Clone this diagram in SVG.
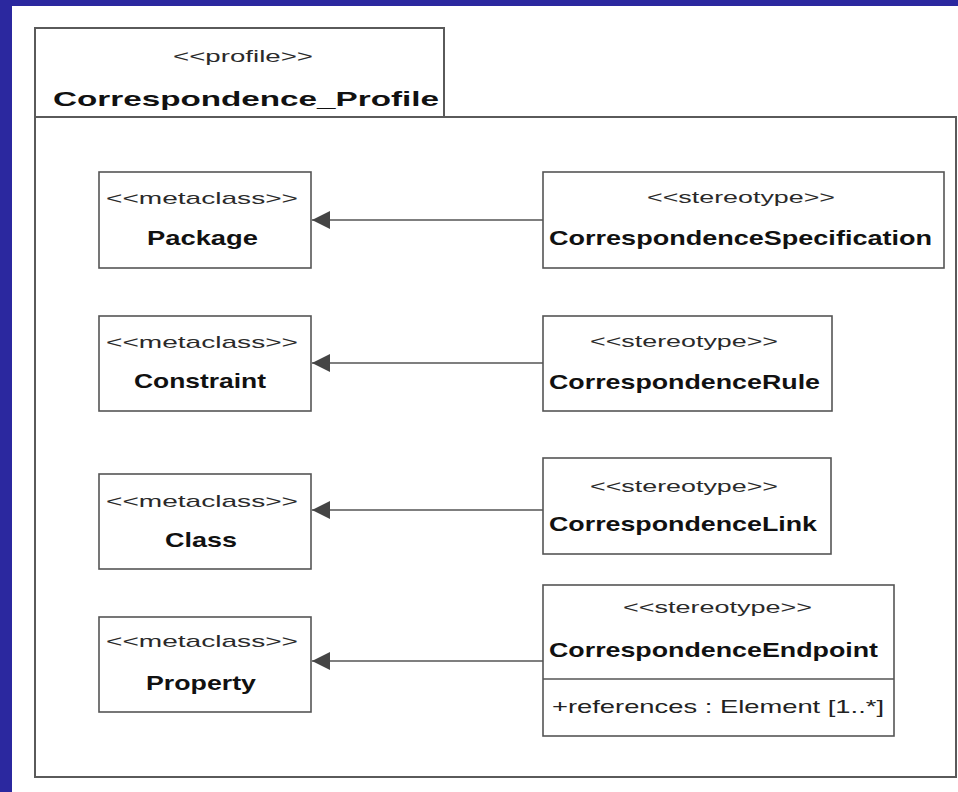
<svg xmlns="http://www.w3.org/2000/svg" width="958" height="792" viewBox="0 0 958 792">
<style>
.box{fill:#fff;stroke:#555;stroke-width:1.6}
.frame{fill:#fff;stroke:#5a5a5a;stroke-width:2}
.st{font-family:"Liberation Sans",Arial,sans-serif;font-size:17px;fill:#2a2a2a;text-anchor:middle}
.nm{font-family:"Liberation Sans",Arial,sans-serif;font-size:21px;font-weight:bold;fill:#111;text-anchor:middle}
.at{font-family:"Liberation Sans",Arial,sans-serif;font-size:19px;fill:#222}
.conn{stroke:#555;stroke-width:1.6;fill:none;marker-end:url(#tri)}
</style>
<defs>
<marker id="tri" markerUnits="userSpaceOnUse" markerWidth="20" markerHeight="20" refX="18" refY="9" orient="auto">
<path d="M0,0 L18,9 L0,18 z" fill="#454545"/>
</marker>
</defs>
<rect x="0" y="0" width="958" height="792" fill="#2b289f"/>
<rect x="12" y="6" width="946" height="786" fill="#fff"/>

<g id="profile">
<rect class="frame" x="35" y="117" width="921" height="660"/>
<rect class="frame" x="35" y="28" width="409" height="89"/>
<text class="st" x="243" y="62" textLength="140" lengthAdjust="spacingAndGlyphs">&lt;&lt;profile&gt;&gt;</text>
<text class="nm" x="246" y="106" font-size="24" textLength="386" lengthAdjust="spacingAndGlyphs">Correspondence_Profile</text>
</g>

<g id="Package">
<rect class="box" x="99" y="172" width="212" height="96"/>
<text class="st" x="202" y="204" textLength="192" lengthAdjust="spacingAndGlyphs">&lt;&lt;metaclass&gt;&gt;</text>
<text class="nm" x="202.5" y="245" textLength="111" lengthAdjust="spacingAndGlyphs">Package</text>
</g>
<g id="Constraint">
<rect class="box" x="99" y="316" width="212" height="95"/>
<text class="st" x="202" y="348" textLength="192" lengthAdjust="spacingAndGlyphs">&lt;&lt;metaclass&gt;&gt;</text>
<text class="nm" x="200" y="388" textLength="132" lengthAdjust="spacingAndGlyphs">Constraint</text>
</g>
<g id="Class">
<rect class="box" x="99" y="474" width="212" height="95"/>
<text class="st" x="202" y="507" textLength="192" lengthAdjust="spacingAndGlyphs">&lt;&lt;metaclass&gt;&gt;</text>
<text class="nm" x="201" y="547" textLength="72" lengthAdjust="spacingAndGlyphs">Class</text>
</g>
<g id="Property">
<rect class="box" x="99" y="617" width="212" height="95"/>
<text class="st" x="202" y="647" textLength="192" lengthAdjust="spacingAndGlyphs">&lt;&lt;metaclass&gt;&gt;</text>
<text class="nm" x="201" y="690" textLength="110" lengthAdjust="spacingAndGlyphs">Property</text>
</g>

<g id="CorrespondenceSpecification">
<rect class="box" x="543" y="172" width="401" height="96"/>
<text class="st" x="741" y="203" textLength="188" lengthAdjust="spacingAndGlyphs">&lt;&lt;stereotype&gt;&gt;</text>
<text class="nm" x="740.5" y="245" textLength="383" lengthAdjust="spacingAndGlyphs">CorrespondenceSpecification</text>
</g>
<g id="CorrespondenceRule">
<rect class="box" x="543" y="316" width="289" height="95"/>
<text class="st" x="684" y="347" textLength="188" lengthAdjust="spacingAndGlyphs">&lt;&lt;stereotype&gt;&gt;</text>
<text class="nm" x="684.5" y="389" textLength="271" lengthAdjust="spacingAndGlyphs">CorrespondenceRule</text>
</g>
<g id="CorrespondenceLink">
<rect class="box" x="543" y="458" width="288" height="96"/>
<text class="st" x="684" y="492" textLength="188" lengthAdjust="spacingAndGlyphs">&lt;&lt;stereotype&gt;&gt;</text>
<text class="nm" x="683" y="531" textLength="268" lengthAdjust="spacingAndGlyphs">CorrespondenceLink</text>
</g>
<g id="CorrespondenceEndpoint">
<rect class="box" x="543" y="585" width="351" height="151"/>
<line x1="543" y1="679" x2="894" y2="679" stroke="#555" stroke-width="1.6"/>
<text class="st" x="717.5" y="613" textLength="189" lengthAdjust="spacingAndGlyphs">&lt;&lt;stereotype&gt;&gt;</text>
<text class="nm" x="713.5" y="657" textLength="329" lengthAdjust="spacingAndGlyphs">CorrespondenceEndpoint</text>
<text class="at" x="552" y="713" textLength="332" lengthAdjust="spacingAndGlyphs">+references : Element [1..*]</text>
</g>

<g id="connectors">
<line class="conn" x1="543" y1="220" x2="312" y2="220"/>
<line class="conn" x1="543" y1="363" x2="312" y2="363"/>
<line class="conn" x1="543" y1="510" x2="312" y2="510"/>
<line class="conn" x1="543" y1="661" x2="312" y2="661"/>
</g>
</svg>
